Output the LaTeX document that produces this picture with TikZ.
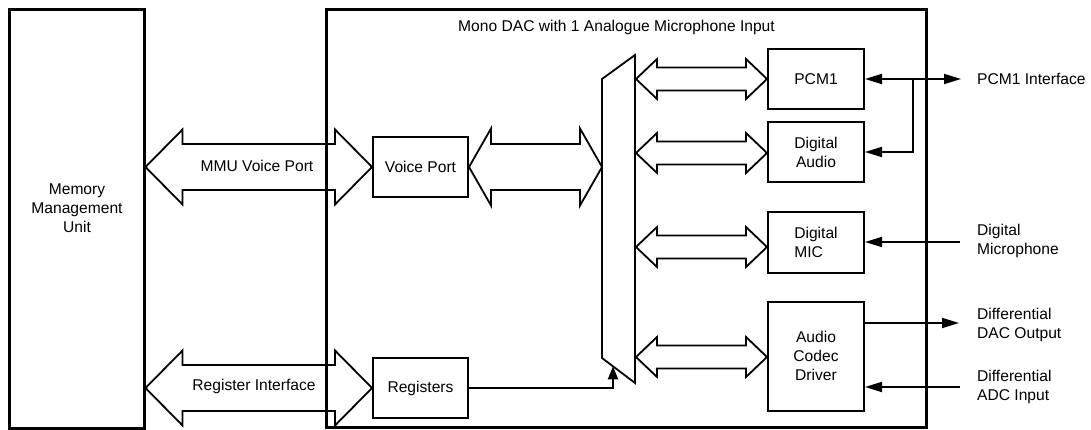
\documentclass[tikz,border=0pt]{standalone}
\usepackage{fontspec}
\setmainfont{Liberation Sans}
\usetikzlibrary{arrows.meta,calc}
\newcommand\lblfont{\fontsize{15.6}{19}\selectfont}
% #1 left tip, #2 right tip (same height), #3 shaft half height, #4 head half height, #5 head length
\newcommand\fatdbl[5]{%
  \draw[fat] (#1) -- ($(#1)+(#5,-#4)$) -- ($(#1)+(#5,-#3)$) -- ($(#2)+(-#5,-#3)$)
    -- ($(#2)+(-#5,-#4)$) -- (#2) -- ($(#2)+(-#5,#4)$) -- ($(#2)+(-#5,#3)$)
    -- ($(#1)+(#5,#3)$) -- ($(#1)+(#5,#4)$) -- cycle;}
\begin{document}
\begin{tikzpicture}[x=1pt,y=-1pt,
  outerbox/.style={draw, line width=3pt, inner sep=0pt},
  box/.style={draw, line width=2pt, inner sep=0pt, align=center, font=\lblfont},
  fat/.style={draw, line width=1.8pt, line join=miter},
  sig/.style={draw, line width=1.8pt, -{Triangle[length=17pt,width=10pt]}},
  lbl/.style={font=\lblfont, align=left, anchor=west, inner sep=0pt}]
\useasboundingbox (0,0) rectangle (1091,430);
% outer blocks
\node[outerbox, minimum width=135pt, minimum height=418pt] (mmu) at (76.5,219) {};
\node[font=\lblfont, align=center] (mmut) at (77,208) {Memory\\Management\\Unit};
\node[outerbox, minimum width=600pt, minimum height=417pt] (dac) at (626,218.5) {};
\node[font=\lblfont] (title) at (616.5,27) {Mono DAC with 1 Analogue Microphone Input};
% inner blocks
\node[box, minimum width=95pt, minimum height=60pt] (vp) at (420.5,167) {Voice Port};
\node[box, minimum width=95pt, minimum height=60pt] (reg) at (420.5,388) {Registers};
\node[box, minimum width=96pt, minimum height=60pt] (pcm) at (816,79) {PCM1};
\node[box, minimum width=96pt, minimum height=60pt] (da) at (816,152) {Digital\\Audio};
\node[box, minimum width=96pt, minimum height=61pt, align=left] (dmic) at (816,242.5) {Digital\\MIC};
\node[box, minimum width=96pt, minimum height=109pt] (acd) at (816,356) {Audio\\Codec\\Driver};
% mux
\coordinate (mtl) at (602,79);
\coordinate (mtr) at (635,55);
\coordinate (mbr) at (635,383);
\coordinate (mbl) at (602,358);
\draw[line width=1.8pt, line join=miter] (mtl) -- (mtr) -- (mbr) -- (mbl) -- cycle;
% fat arrows
\coordinate (a1l) at (mmu.east |- vp.west);
\fatdbl{a1l}{vp.west}{23}{37.5}{37}
\coordinate (a2l) at (mmu.east |- reg.west);
\fatdbl{a2l}{reg.west}{23}{37.5}{37}
\coordinate (a3r) at (mtl |- vp.east);
\fatdbl{vp.east}{a3r}{23}{38.5}{22}
\coordinate (b1l) at (636,79);  \coordinate (b1r) at (pcm.west |- b1l);
\coordinate (b2l) at (636,153); \coordinate (b2r) at (da.west |- b2l);
\coordinate (b3l) at (636,247); \coordinate (b3r) at (dmic.west |- b3l);
\coordinate (b4l) at (636,357); \coordinate (b4r) at (acd.west |- b4l);
\fatdbl{b1l}{b1r}{11.5}{20}{21}
\fatdbl{b2l}{b2r}{11.5}{20}{21}
\fatdbl{b3l}{b3r}{11.5}{20}{21}
\fatdbl{b4l}{b4r}{11.5}{20}{21}
% labels on fat arrows
\node[font=\lblfont] (mvp) at (257,166) {MMU Voice Port};
\node[font=\lblfont] (rif) at (254,386) {Register Interface};
% registers to mux
\coordinate (mxin) at ($(mbl)!0.333!(mbr)$);
\draw[sig, line width=2pt, -{Triangle[length=13pt,width=10pt]}] (reg.east) -| (mxin);
% external signals
\coordinate (pcmo) at (961,79);
\coordinate (brk) at (913,79);
\draw[sig, {Triangle[length=17pt,width=10pt]}-{Triangle[length=17pt,width=10pt]}] (pcm.east) -- (pcmo);
\draw[sig] (brk) |- (da.east);
\coordinate (dmi) at (960,242);
\draw[sig] (dmi) -- (dmi -| dmic.east);
\coordinate (daco) at (959,323);
\draw[sig] (daco -| acd.east) -- (daco);
\coordinate (adci) at (960,387);
\draw[sig] (adci) -- (adci -| acd.east);
% external labels
\node[lbl] (l1) at (977,79) {PCM1 Interface};
\node[lbl] (l2) at (977,241) {Digital\\Microphone};
\node[lbl] (l3) at (977,325) {Differential\\DAC Output};
\node[lbl] (l4) at (977,387) {Differential\\ADC Input};
\end{tikzpicture}
\end{document}
